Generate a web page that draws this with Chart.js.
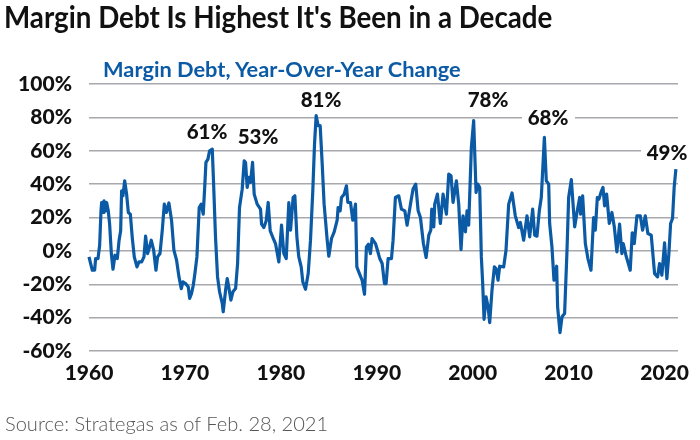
<!DOCTYPE html>
<html>
<head>
<meta charset="utf-8">
<script src="https://cdn.jsdelivr.net/npm/chart.js@4"></script>
<style>
  html, body { margin: 0; padding: 0; background: #fff; }
  #wrap { position: relative; width: 700px; height: 440px; overflow: hidden; font-family: Lato, sans-serif; }
  #chart { position: absolute; left: 0; top: 0; }
  #title { position: absolute; left: 4px; top: -1px; font-size: 29.5px; font-weight: 700; color: #111; white-space: nowrap; transform: scaleX(0.94); transform-origin: left center; }
  #subtitle { position: absolute; left: 103px; top: 55px; font-size: 21.8px; font-weight: 700; color: #0b5aa5; white-space: nowrap; }
  #source { position: absolute; left: 5px; top: 411px; font-size: 20.1px; font-weight: 300; color: #555; white-space: nowrap; }
</style>
</head>
<body>
<div id="wrap">
  <canvas id="chart" width="700" height="440"></canvas>
  <div id="title">Margin Debt Is Highest It's Been in a Decade</div>
  <div id="subtitle">Margin Debt, Year-Over-Year Change</div>
  <div id="source">Source: Strategas as of Feb. 28, 2021</div>
</div>
<script>
const years = [
  1960.00, 1960.17, 1960.35, 1960.59, 1960.69, 1960.94, 1961.11, 1961.25, 1961.32, 1961.49,
  1961.56, 1961.74, 1961.84, 1962.01, 1962.15, 1962.33, 1962.50, 1962.71, 1962.95, 1963.13,
  1963.30, 1963.40, 1963.54, 1963.72, 1963.92, 1964.10, 1964.31, 1964.51, 1964.72, 1965.00,
  1965.21, 1965.49, 1965.73, 1965.90, 1966.11, 1966.32, 1966.49, 1966.74, 1966.98, 1967.15,
  1967.40, 1967.64, 1967.85, 1968.06, 1968.33, 1968.61, 1968.85, 1969.13, 1969.38, 1969.62,
  1969.79, 1970.07, 1970.35, 1970.49, 1970.69, 1970.87, 1971.04, 1971.25, 1971.49, 1971.70,
  1971.91, 1972.08, 1972.19, 1972.40, 1972.57, 1972.85, 1972.99, 1973.19, 1973.40, 1973.61,
  1973.89, 1973.99, 1974.24, 1974.41, 1974.62, 1974.79, 1975.00, 1975.28, 1975.49, 1975.69,
  1975.97, 1976.18, 1976.32, 1976.49, 1976.67, 1976.84, 1977.05, 1977.22, 1977.53, 1977.88,
  1977.99, 1978.23, 1978.47, 1978.68, 1978.89, 1979.17, 1979.44, 1979.79, 1980.07, 1980.31,
  1980.56, 1980.83, 1981.01, 1981.28, 1981.46, 1981.67, 1981.87, 1982.12, 1982.29, 1982.57,
  1982.85, 1983.09, 1983.33, 1983.51, 1983.68, 1983.89, 1984.10, 1984.31, 1984.51, 1984.83,
  1985.00, 1985.28, 1985.56, 1985.87, 1985.97, 1986.18, 1986.32, 1986.60, 1986.84, 1986.98,
  1987.26, 1987.50, 1987.78, 1987.92, 1988.19, 1988.47, 1988.72, 1988.92, 1989.13, 1989.34,
  1989.51, 1989.86, 1990.07, 1990.31, 1990.56, 1990.80, 1990.97, 1991.18, 1991.53, 1991.70,
  1991.94, 1992.29, 1992.57, 1992.92, 1993.16, 1993.54, 1993.78, 1994.06, 1994.31, 1994.55,
  1994.86, 1995.14, 1995.42, 1995.63, 1995.73, 1995.94, 1996.04, 1996.32, 1996.63, 1996.91,
  1997.26, 1997.50, 1997.74, 1997.95, 1998.30, 1998.54, 1998.78, 1998.99, 1999.24, 1999.41,
  1999.58, 1999.86, 2000.10, 2000.35, 2000.52, 2000.73, 2000.90, 2001.04, 2001.18, 2001.39,
  2001.60, 2001.77, 2002.01, 2002.26, 2002.43, 2002.64, 2002.81, 2003.23, 2003.47, 2003.75,
  2004.10, 2004.44, 2004.79, 2004.97, 2005.31, 2005.66, 2005.94, 2006.25, 2006.46, 2006.70,
  2006.94, 2007.15, 2007.47, 2007.67, 2007.92, 2008.02, 2008.26, 2008.47, 2008.75, 2008.85,
  2009.10, 2009.31, 2009.58, 2009.83, 2010.00, 2010.28, 2010.63, 2010.87, 2011.15, 2011.25,
  2011.46, 2011.74, 2012.01, 2012.33, 2012.60, 2012.78, 2012.99, 2013.16, 2013.37, 2013.58,
  2013.75, 2013.96, 2014.24, 2014.51, 2014.76, 2015.03, 2015.31, 2015.55, 2015.69, 2015.97,
  2016.42, 2016.63, 2016.84, 2017.12, 2017.47, 2017.71, 2017.99, 2018.26, 2018.61, 2018.96,
  2019.27, 2019.48, 2019.72, 2020.00, 2020.24, 2020.45, 2020.63, 2020.83, 2021.00, 2021.18
];
const changes = [
  -3.6, -7.6, -11.6, -11.6, -4.6, -4.6, 3.4, 24, 29, 23,
  30, 24, 29, 24, 16, -1.6, -11, -2.6, -4.6, 6,
  12, 36, 33, 42, 34, 23, 22, 8, -3.6, -9.6,
  -6.6, -6.6, -3.6, 8.8, -1.6, 2.4, 6.4, 0.4, -11.6, -3.6,
  -1.6, 12.4, 28, 23, 28.7, 18, 0.4, -5.6, -15.6, -22.6,
  -18.6, -19.6, -21.6, -28.5, -25.5, -20.6, -13.6, -3.6, 26, 28,
  22, 40, 53, 55, 60, 61, 40, 8, -15.6, -24.5,
  -31.5, -36.5, -23.5, -16.6, -23.5, -29.5, -24.5, -22.6, -7.6, 26,
  37, 54, 53, 38, 44, 41, 53, 34, 28, 25,
  16, 14, 18, 29, 12, 8, 4.4, -6.6, 15.4, -1.6,
  -4.6, 29, 12.4, 32, 33, 8.4, -3.6, -9.6, -18.6, -23,
  -13.6, 6.4, 36, 64, 81, 75, 75, 52, 28, 6.4,
  -3.2, 7.4, 11.4, 18.4, 26, 24, 32, 34, 39, 29,
  29, 18.4, 28, -9.6, -13.6, -17.6, -26, 2.4, 4, -1.6,
  7.4, 4.4, 0.4, -4.6, -7.6, -19.6, -19.6, -4.6, -4.6, 6.4,
  32, 33, 25, 24, 15.4, 29, 37, 40, 24, 20,
  4.4, -4, 9.4, 12.4, 25, 14.4, 28, 34, 16.4, 34,
  22, 46, 45, 29, 42, 28, 0.8, 21, 11.4, 24,
  15.4, 62, 78, 35, 40, 38, -3.6, -19.6, -41, -27.5,
  -33.5, -43, -23.5, -9.6, -10.6, -17.6, -9.2, -9.6, 0.4, 28,
  34.7, 21, 14, 17, 6.4, 21, 8.4, 25, 9.4, 8.8,
  24, 32, 68, 42, 40, 16.4, 2.4, -17.6, -9.2, -33.5,
  -49, -39.5, -37.5, 0.4, 32, 42.7, 14.4, 23, 32, 22,
  33, 4.4, -4.6, -11.6, 20, 12.4, 32, 31, 35, 38,
  27, 34, 16.4, 23, 14.4, -0.6, 16, -1.6, 4.4, -2.6,
  -11.6, 10.8, 4.4, 21, 21, 12.4, 21, 10.4, 9.4, -13.6,
  -15.6, -7.6, -14.6, 4.8, -16.6, -1.6, 16.4, 19.4, 38, 49
];
const yearTicks = [1960, 1970, 1980, 1990, 2000, 2010, 2020];
const peakLabels = ['61%', '53%', '81%', '78%', '68%', '49%'];

// where each peak label sits on the page, and whether it knocks out the gridline behind it
const labelSpots = [
  { x: 207, y: 132, gap: null },
  { x: 258, y: 137, gap: [233, 283] },
  { x: 321, y: 100, gap: null },
  { x: 488, y: 100, gap: null },
  { x: 548, y: 118, gap: [522, 575] },
  { x: 667, y: 153, gap: [641, 700] }
];

const peakLabelPlugin = {
  id: 'peakLabels',
  beforeDatasetsDraw(chart) {
    const ctx = chart.ctx;
    ctx.save();
    ctx.fillStyle = '#fff';
    labelSpots.forEach(spot => {
      if (spot.gap) ctx.fillRect(spot.gap[0], spot.y - 12, spot.gap[1] - spot.gap[0], 25);
    });
    ctx.restore();
  },
  afterDatasetsDraw(chart) {
    const ctx = chart.ctx;
    ctx.save();
    ctx.font = '900 20.5px Lato, sans-serif';
    ctx.fillStyle = '#111';
    ctx.textAlign = 'center';
    ctx.textBaseline = 'middle';
    peakLabels.forEach((text, i) => {
      ctx.fillText(text, labelSpots[i].x, labelSpots[i].y);
    });
    ctx.restore();
  }
};

new Chart(document.getElementById('chart').getContext('2d'), {
  type: 'line',
  data: {
    datasets: [{
      label: 'Margin Debt, Year-Over-Year Change',
      data: years.map((year, i) => ({ x: year, y: changes[i] })),
      borderColor: '#0b5aa5',
      borderWidth: 3.2,
      pointRadius: 0,
      tension: 0,
      borderJoinStyle: 'round',
      clip: false
    }]
  },
  options: {
    responsive: false,
    animation: false,
    layout: { padding: { top: 84, right: 22, left: 0, bottom: 0 } },
    plugins: { legend: { display: false }, tooltip: { enabled: false } },
    scales: {
      x: {
        type: 'linear',
        min: 1960,
        max: 2021.4,
        grid: { display: false, drawTicks: false },
        border: { display: false },
        afterBuildTicks(axis) {
          axis.ticks = yearTicks.map(value => ({ value }));
        },
        afterFit(axis) { axis.height = 89; },
        ticks: {
          autoSkip: false,
          maxRotation: 0,
          padding: 10,
          color: '#111',
          font: { family: 'Lato, sans-serif', size: 21, weight: '900' },
          callback: value => String(value)
        }
      },
      y: {
        min: -60,
        max: 100,
        grid: { color: '#a8a8ad', lineWidth: 1.4, drawTicks: false },
        border: { display: false },
        afterFit(axis) { axis.width = 89; },
        ticks: {
          stepSize: 20,
          padding: 17,
          color: '#111',
          font: { family: 'Lato, sans-serif', size: 21, weight: '900' },
          callback: value => value + '%'
        }
      }
    }
  },
  plugins: [peakLabelPlugin]
});
</script>
</body>
</html>
